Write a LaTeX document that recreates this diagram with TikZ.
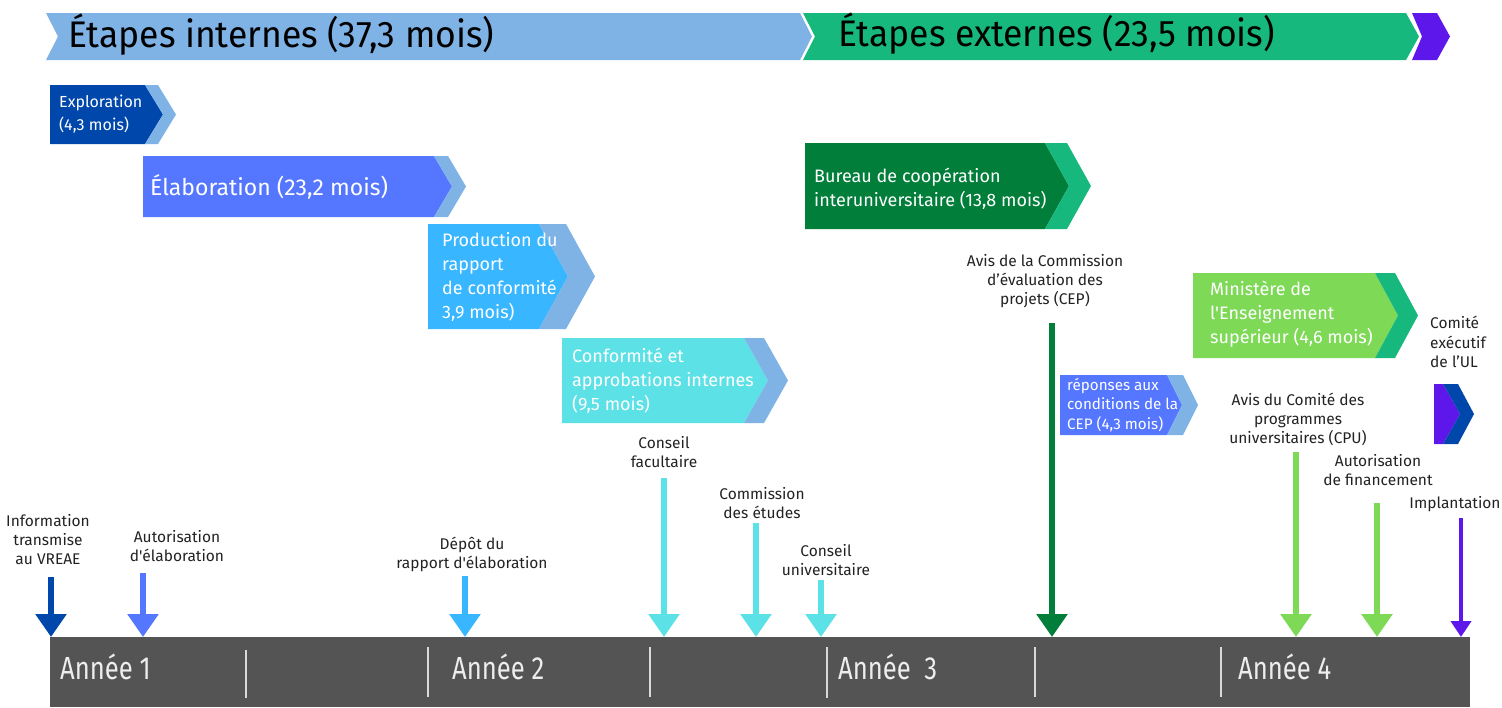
\documentclass[tikz,border=0pt]{standalone}
\usepackage{fontspec}
\setmainfont{Fira Sans}[Ligatures=TeXOff]
\newfontfamily\hdrfont{Fira Sans}[Ligatures=TeXOff, FakeStretch=0.96]
\newfontfamily\yrfont{Fira Sans}[Ligatures=TeXOff, FakeStretch=0.8]
\usetikzlibrary{arrows.meta}
\definecolor{cDarkBlue}{HTML}{0047AB}
\definecolor{cBlue}{HTML}{5576FF}
\definecolor{cLight}{HTML}{7FB2E5}
\definecolor{cSky}{HTML}{38B6FF}
\definecolor{cCyan}{HTML}{5CE1E6}
\definecolor{cDGreen}{HTML}{007E3A}
\definecolor{cGreen}{HTML}{17B87D}
\definecolor{cLGreen}{HTML}{7ED957}
\definecolor{cPurple}{HTML}{5E17EB}
\definecolor{cGray}{HTML}{545454}
\definecolor{cSep}{HTML}{D9D9D9}
\definecolor{cText}{HTML}{222222}
\newcommand{\chevbox}[9]{%
  \fill[#8] (#1,#6) -- (#2,#6) -- (#3,{(#6+#7)/2}) -- (#2,#7) -- (#1,#7) -- cycle;
  \fill[#9] (#2,#6) -- (#4,#6) -- (#5,{(#6+#7)/2}) -- (#4,#7) -- (#2,#7) -- (#3,{(#6+#7)/2}) -- cycle;}
\tikzset{
  boxtxt/.style={anchor=west, align=left, inner sep=0pt, text=white, font=\fontsize{18}{24}\selectfont},
  lab/.style={align=center, inner sep=0pt, text=cText, font=\fontsize{15.5}{19}\selectfont},
  hdr/.style={anchor=west, inner sep=0pt, text=black, font=\hdrfont\fontsize{37}{37}\selectfont},
  yr/.style={anchor=west, inner sep=0pt, text=white!93!black, font=\yrfont\fontsize{32}{32}\selectfont},
  ev/.style={line width=6pt, -{Triangle[width=30pt,length=23pt]}},
  sep/.style={draw=cSep, line width=2.5pt}
}
\begin{document}
\begin{tikzpicture}[x=1pt,y=-1pt]
\useasboundingbox (0,0) rectangle (1502,707);
% header bars
\fill[cLight] (46,13) -- (800,13) -- (812,36.5) -- (800,60) -- (46,60) -- (58,36.5) -- cycle;
\fill[cGreen] (803,13) -- (1406,13) -- (1419,36.5) -- (1406,60) -- (803,60) -- (815,36.5) -- cycle;
\fill[cPurple] (1412,13) -- (1437,13) -- (1450,36.5) -- (1437,60) -- (1412,60) -- (1422,36.5) -- cycle;
\node[hdr] (h1) at (68,35) {Étapes internes (37,3 mois)};
\node[hdr] (h2) at (838,34) {Étapes externes (23,5 mois)};
% stage boxes
\chevbox{50}{145}{163}{158}{176}{85}{144}{cDarkBlue}{cLight}
\node[boxtxt, font=\fontsize{16}{23}\selectfont] (explo) at (59,114) {Exploration\\(4,3 mois)};
\chevbox{143}{434}{452}{448}{466}{156}{217}{cBlue}{cLight}
\node[boxtxt, font=\fontsize{23}{24}\selectfont] (elab) at (150,187) {Élaboration (23,2 mois)};
\chevbox{428}{539}{568}{566}{595}{224}{329}{cSky}{cLight}
\node[boxtxt] (prod) at (442,277) {Production du\\rapport\\de conformité\\3,9 mois)};
\chevbox{562}{744}{768}{764}{788}{338}{423}{cCyan}{cLight}
\node[boxtxt] (conf) at (572,381) {Conformité et\\approbations internes\\(9,5 mois)};
\chevbox{805}{1045}{1069}{1067}{1091}{143}{229}{cDGreen}{cGreen}
\node[boxtxt] (bci) at (814,189) {Bureau de coopération\\interuniversitaire (13,8 mois)};
\chevbox{1060}{1167}{1182}{1183}{1198}{375}{435}{cBlue}{cLight}
\node[boxtxt, font=\fontsize{15.2}{19.5}\selectfont] (rep) at (1067,405) {réponses aux\\conditions de la\\CEP (4,3 mois)};
\chevbox{1193}{1375}{1398}{1395}{1418}{273}{358}{cLGreen}{cGreen}
\node[boxtxt] (mes) at (1210,314) {Ministère de\\l'Enseignement\\supérieur (4,6 mois)};
\chevbox{1434}{1443}{1460}{1458}{1474}{384}{444}{cPurple}{cDarkBlue}
\node[lab, anchor=west, align=left, font=\fontsize{15.5}{19.5}\selectfont] (ce) at (1430,342) {Comité\\exécutif\\de l’UL};
% timeline
\fill[cGray] (50,637) rectangle (1470,707);
\foreach \sx/\sa/\sb in {246/650/698, 428/647/697, 650/647/697, 827/647/698, 1035/647/697, 1221/647/697}
  \draw[sep] (\sx,\sa) -- (\sx,\sb);
\node[yr] (y1) at (60,667) {Année 1};
\node[yr] (y2) at (452,667) {Année 2};
\node[yr] (y3) at (838,667) {Année\ \ 3};
\node[yr] (y4) at (1238,667) {Année 4};
% labels
\node[lab] (l1) at (48,540) {Information\\transmise\\au VREAE};
\node[lab] (l2) at (177,546.5) {Autorisation\\d'élaboration};
\node[lab] (l3) at (472,554.5) {Dépôt du\\rapport d'élaboration};
\node[lab] (l4) at (664,452.5) {Conseil\\facultaire};
\node[lab] (l5) at (762,503.5) {Commission\\des études};
\node[lab] (l6) at (826,560.5) {Conseil\\universitaire};
\node[lab] (l7) at (1045,281.5) {Avis de la Commission\\d’évaluation des\\projets (CEP)};
\node[lab] (l8) at (1298,419) {Avis du Comité des\\programmes\\universitaires (CPU)};
\node[lab] (l9) at (1378,470) {Autorisation\\de financement};
\node[lab] (l10) at (1455,504) {Implantation};
% arrow coordinates
\foreach \n/\ax/\ay in {1/51/577, 2/143/573, 3/465/576, 4/664/478, 5/756/523, 6/821/580, 7/1052/323, 8/1296/452, 9/1377/503, 10/1461/518}{
  \coordinate (s\n) at (\ax,\ay);
  \coordinate (e\n) at (\ax,637);
}
\draw[ev, cDarkBlue] (s1) -- (e1);
\draw[ev, cBlue] (s2) -- (e2);
\draw[ev, cSky] (s3) -- (e3);
\draw[ev, cCyan] (s4) -- (e4);
\draw[ev, cCyan] (s5) -- (e5);
\draw[ev, cCyan] (s6) -- (e6);
\draw[ev, cDGreen] (s7) -- (e7);
\draw[ev, cLGreen] (s8) -- (e8);
\draw[ev, cLGreen] (s9) -- (e9);
\draw[cPurple, line width=4pt, -{Triangle[width=20pt,length=16pt]}] (s10) -- (e10);
\end{tikzpicture}
\end{document}
